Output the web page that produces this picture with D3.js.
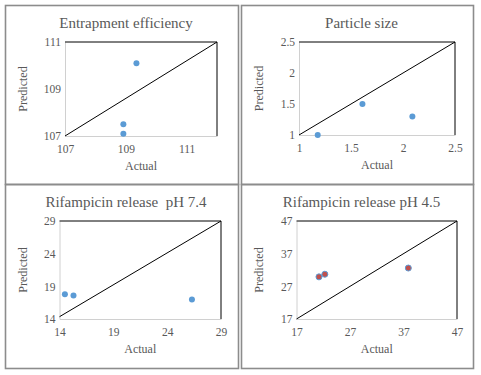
<!DOCTYPE html>
<html>
<head>
<meta charset="utf-8">
<script src="https://cdn.jsdelivr.net/npm/d3@7"></script>
<style>
  body { margin: 0; background: #fff; }
  text { font-family: "Liberation Serif", "Times New Roman", serif; fill: #595959; }
</style>
</head>
<body>
<div id="chart"></div>
<script>
// values
var titles = ["Entrapment efficiency", "Particle size", "Rifampicin release  pH 7.4", "Rifampicin release pH 4.5"];

var entrapActual = [109.35, 108.92, 108.92];
var entrapPred = [110.1, 107.5, 107.1];

var sizeActual = [1.18, 1.61, 2.09];
var sizePred = [1.0, 1.5, 1.3];

var rel74Actual = [14.5, 15.3, 26.3];
var rel74Pred = [17.8, 17.6, 17.0];

var rel45Actual = [21.2, 22.3, 37.9];
var rel45Pred = [29.9, 30.7, 32.6];

// axis ranges and ticks
var xDomains = [[107, 112], [1, 2.5], [14, 29], [17, 47]];
var yDomains = [[107, 111], [1, 2.5], [14, 29], [17, 47]];
var xTicks = [[107, 109, 111], [1, 1.5, 2, 2.5], [14, 19, 24, 29], [17, 27, 37, 47]];
var yTicks = [[107, 109, 111], [1, 1.5, 2, 2.5], [14, 19, 24, 29], [17, 27, 37, 47]];

// reference line end points (x0,y0) -> (x1,y1)
var refLines = [[[107, 107], [112, 111]], [[1, 1], [2.5, 2.5]], [[14, 14.35], [29, 29]], [[17, 17], [47, 47]]];

var panels = [
  {actual: entrapActual, pred: entrapPred, box: [5.5, 5.5, 238.5, 184.5], plot: [65, 42, 217, 136], fill: "#5b9bd5"},
  {actual: sizeActual, pred: sizePred, box: [241.5, 5.5, 473.5, 184.5], plot: [299, 42, 455, 135], fill: "#5b9bd5"},
  {actual: rel74Actual, pred: rel74Pred, box: [5.5, 184.5, 238.5, 368.5], plot: [59.5, 221, 221, 319], fill: "#5b9bd5"},
  {actual: rel45Actual, pred: rel45Pred, box: [241.5, 184.5, 473.5, 368.5], plot: [296.5, 221, 457, 319], fill: "#c0504d"}
];

var svg = d3.select("#chart").append("svg")
  .attr("width", 481)
  .attr("height", 375);

function styleAxis(s) {
  s.attr("font-family", null);
  s.select(".domain").attr("stroke", "#d0d0d0");
  s.selectAll("text")
    .style("font-family", "'Liberation Serif', serif")
    .style("font-size", "11.5px")
    .style("fill", "#595959");
}

panels.forEach(function(p, i) {
  var b = p.box, a = p.plot;

  // panel frame
  svg.append("rect")
    .attr("x", b[0]).attr("y", b[1])
    .attr("width", b[2] - b[0]).attr("height", b[3] - b[1])
    .attr("fill", "none")
    .attr("stroke", "#8c8c8c")
    .attr("stroke-width", 1.6);

  var x = d3.scaleLinear().domain(xDomains[i]).range([a[0], a[2]]);
  var y = d3.scaleLinear().domain(yDomains[i]).range([a[3], a[1]]);

  var g = svg.append("g");

  // title
  g.append("text")
    .attr("x", (b[0] + b[2]) / 2 + 4)
    .attr("y", b[1] + 22)
    .attr("text-anchor", "middle")
    .style("font-size", "15px")
    .style("white-space", "pre")
    .text(titles[i]);

  // axes without ticks
  g.append("g")
    .attr("transform", "translate(0," + a[3] + ")")
    .call(d3.axisBottom(x).tickValues(xTicks[i]).tickFormat(function(d) { return String(d); }).tickSize(0).tickPadding(9))
    .call(styleAxis);

  g.append("g")
    .attr("transform", "translate(" + a[0] + ",0)")
    .call(d3.axisLeft(y).tickValues(yTicks[i]).tickFormat(function(d) { return String(d); }).tickSize(0).tickPadding(4))
    .call(styleAxis);

  // top and right edges of the plot area
  g.append("path")
    .attr("d", "M" + a[0] + "," + a[1] + "H" + a[2] + "V" + a[3])
    .attr("fill", "none")
    .attr("stroke", "#000")
    .attr("stroke-width", 1);

  // reference line
  g.append("line")
    .attr("x1", x(refLines[i][0][0])).attr("y1", y(refLines[i][0][1]))
    .attr("x2", x(refLines[i][1][0])).attr("y2", y(refLines[i][1][1]))
    .attr("stroke", "#000")
    .attr("stroke-width", 1);

  // axis titles
  g.append("text")
    .attr("x", (a[0] + a[2]) / 2)
    .attr("y", a[3] + 34)
    .attr("text-anchor", "middle")
    .style("font-size", "12px")
    .text("Actual");

  g.append("text")
    .attr("transform", "translate(" + (b[0] + 21) + "," + ((a[1] + a[3]) / 2) + ") rotate(-90)")
    .attr("text-anchor", "middle")
    .style("font-size", "12px")
    .text("Predicted");

  // points
  g.selectAll("circle")
    .data(p.actual)
    .enter().append("circle")
    .attr("cx", function(d) { return x(d); })
    .attr("cy", function(d, j) { return y(p.pred[j]); })
    .attr("r", 3)
    .attr("fill", p.fill)
    .attr("stroke", i == 3 ? "#5b9bd5" : "none")
    .attr("stroke-width", 1);
});
</script>
</body>
</html>
